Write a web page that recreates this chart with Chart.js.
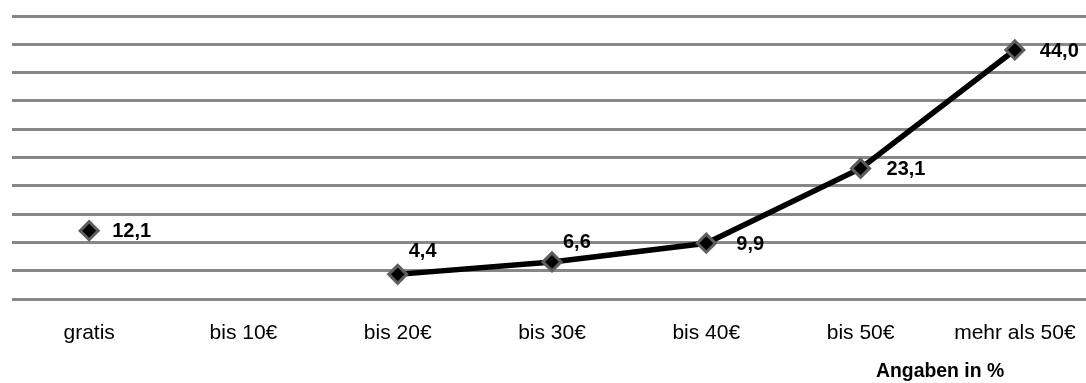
<!DOCTYPE html>
<html>
<head>
<meta charset="utf-8">
<script src="https://cdn.jsdelivr.net/npm/chart.js@4/dist/chart.umd.min.js"></script>
<style>
  html, body { margin: 0; padding: 0; background: #fff; overflow: hidden; width: 1086px; height: 383px; }
  #c { position: absolute; left: 0; top: 0; }
  #note { position: absolute; left: 876px; top: 361px; font: bold 19.4px "Liberation Sans", Arial, sans-serif; line-height: 19px; color: #000; white-space: nowrap; }
</style>
</head>
<body>
<canvas id="c" width="1104" height="383"></canvas>
<div id="note">Angaben in %</div>
<script>
const categories = ["gratis", "bis 10€", "bis 20€", "bis 30€", "bis 40€", "bis 50€", "mehr als 50€"];
const values = [12.1, null, 4.4, 6.6, 9.9, 23.1, 44.0];
const yTicks = [0, 5, 10, 15, 20, 25, 30, 35, 40, 45, 50];

const FONT = '"Liberation Sans", Arial, sans-serif';
// label placement relative to each point (dx to left edge, dy to middle)
const labelOffsets = [[23, 1], null, [11, -23], [11, -19], [30, 1], [26, 1], [25, 1]];

const valueLabels = {
  id: 'valueLabels',
  afterDatasetsDraw(chart) {
    const ctx = chart.ctx;
    const meta = chart.getDatasetMeta(0);
    ctx.save();
    ctx.font = 'bold 20px ' + FONT;
    ctx.fillStyle = '#000';
    ctx.textAlign = 'left';
    ctx.textBaseline = 'middle';
    values.forEach((v, i) => {
      if (v === null) return;
      const pt = meta.data[i];
      const off = labelOffsets[i] || [20, 0];
      ctx.fillText(v.toFixed(1).replace('.', ','), pt.x + off[0], pt.y + off[1]);
    });
    ctx.restore();
  }
};

new Chart(document.getElementById('c'), {
  type: 'line',
  data: {
    labels: categories,
    datasets: [{
      data: values,
      borderColor: '#000',
      borderWidth: 5.5,
      spanGaps: false,
      tension: 0,
      pointStyle: 'rectRot',
      pointRadius: 9,
      pointBackgroundColor: '#000',
      pointBorderColor: '#5e5e5e',
      pointBorderWidth: 3
    }]
  },
  options: {
    responsive: false,
    animation: false,
    layout: { padding: { left: 7.4, right: 0, top: 16, bottom: 16.5 } },
    plugins: { legend: { display: false }, tooltip: { enabled: false } },
    scales: {
      x: {
        offset: true,
        grid: { display: false, drawTicks: false },
        border: { display: false },
        ticks: { color: '#000', font: { family: FONT, size: 21 }, padding: 21, maxRotation: 0, autoSkip: false }
      },
      y: {
        min: 0, max: 50,
        afterBuildTicks(scale) { scale.ticks = yTicks.map(v => ({ value: v })); },
        grid: { color: '#878787', lineWidth: 3, drawTicks: false },
        border: { display: false },
        ticks: { display: false }
      }
    }
  },
  plugins: [valueLabels]
});
</script>
</body>
</html>
